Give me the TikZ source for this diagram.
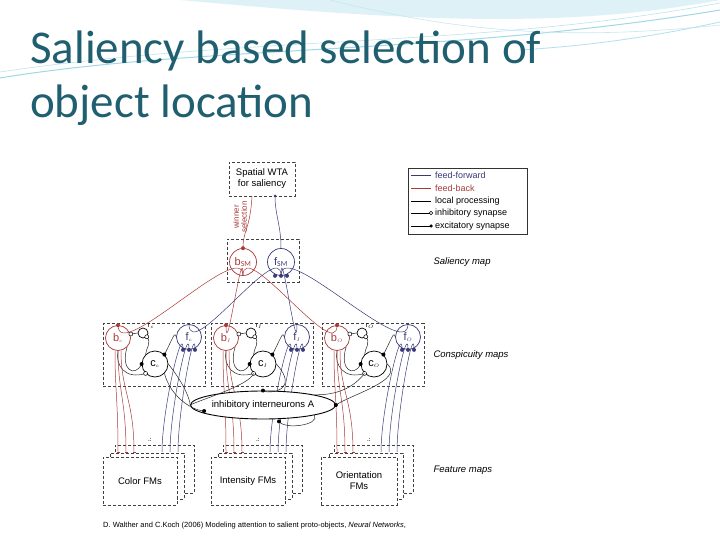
\documentclass[tikz,border=0pt]{standalone}
\usepackage{fontspec}
\setmainfont{Carlito}
\newfontfamily\arial{Liberation Sans}
\usetikzlibrary{shapes.geometric,arrows.meta}
\definecolor{ttl}{HTML}{1F5F70}
\definecolor{fb}{HTML}{A83A3A}
\definecolor{ff}{HTML}{3A3A78}
\definecolor{sw}{HTML}{9FD8E8}
\tikzset{
  dbox/.style={draw=black!75,dashed,dash pattern=on 3pt off 2pt,line width=0.7pt},
  neur/.style={circle,draw,line width=0.7pt,minimum size=25pt,inner sep=0pt,font=\arial\fontsize{11}{11}\selectfont,fill=white},
  lbl/.style={font=\arial\itshape\fontsize{9.5}{10}\selectfont,anchor=west},
  fbl/.style={fb,line width=0.5pt},
  ffl/.style={ff,line width=0.5pt},
  loc/.style={black!85,line width=0.5pt},
  exc/.style={circle,fill,inner sep=0pt,minimum size=4pt},
  inh/.style={circle,draw,fill=white,inner sep=0pt,minimum size=4pt,line width=0.5pt},
}
\begin{document}
\begin{tikzpicture}[x=1pt,y=-1pt]
\useasboundingbox (0,0) rectangle (720,540);
\fill[white] (0,0) rectangle (720,540);
% header swooshes
\fill[sw!35] (180,0) .. controls (400,20) and (560,30) .. (720,0) -- cycle;
\draw[sw,line width=1pt] (0,78) .. controls (200,45) and (450,55) .. (720,10);
\draw[sw!70,line width=0.6pt] (0,72) .. controls (250,35) and (480,48) .. (720,3);
\draw[sw!60,line width=0.6pt] (330,0) .. controls (450,30) and (560,42) .. (720,25);
\draw[sw!80,line width=0.8pt] (520,50) .. controls (600,45) and (660,35) .. (720,22);
% title
\node[anchor=base west,inner sep=0,text=ttl,font=\fontsize{47}{47}\selectfont] (t1) at (30,64) {Saliency based selection of};
\node[anchor=base west,inner sep=0,text=ttl,font=\fontsize{47}{47}\selectfont] (t2) at (30,118) {object location};
% WTA
\node[dbox,minimum width=66pt,minimum height=34pt,align=center,font=\arial\fontsize{9.5}{11}\selectfont,inner sep=1pt] (wta) at (262,179) {Spatial WTA\\for saliency};
% legend
\node[draw=black!80,line width=0.6pt,minimum width=119pt,minimum height=66pt] (leg) at (467.5,201) {};
\foreach \y/\t/\c/\m in {175/feed-forward/ff/0,188/feed-back/fb/0,201/local processing/black/0,213/inhibitory synapse/black/1,226/excitatory synapse/black/2}{
  \coordinate (la) at (411,\y); \coordinate (lb) at (431,\y);
  \draw[\c,line width=0.5pt] (la) -- (lb);
  \ifnum\m=1 \node[inh,minimum size=3.5pt] at (lb) {};\fi
  \ifnum\m=2 \node[exc,minimum size=3.5pt] at (lb) {};\fi
  \node[anchor=west,text=\c,font=\arial\fontsize{9}{9}\selectfont,inner sep=0pt] at (435,\y) {\t};
}
% saliency map
\node[dbox,minimum width=72pt,minimum height=43pt] (smbox) at (263,260.5) {};
\node[neur,draw=fb,text=fb,minimum size=27pt] (bsm) at (243,262) {b$_{\mathrm{SM}}$};
\node[neur,draw=ff,text=ff,minimum size=27pt] (fsm) at (281,262) {f$_{\mathrm{SM}}$};
\node[lbl] (l1) at (430,262) {Saliency map};
\node[lbl] (l2) at (430,355) {Conspicuity maps};
\node[lbl] (l3) at (430,470) {Feature maps};
\draw[fbl] (wta.south) ++(-10,0) coordinate (w1) .. controls (250,230) and (243,230) .. (bsm.north);
\node[exc,fb] at (bsm.north) {};
\draw[ffl] (fsm.north) .. controls (281,225) and (275,215) .. (275,196) coordinate (w2);
\node[exc,ff,minimum size=3pt] at (w2) {};
\node[fb,rotate=90,font=\arial\fontsize{8}{8}\selectfont,align=center,inner sep=0] (ws) at (240,217) {winner\\selection};
% conspicuity groups
\foreach \i/\dx/\s in {1/0/c,2/108/I,3/219/O}{
  \begin{scope}[xshift=\dx]
  \node[dbox,minimum width=102pt,minimum height=63pt] (box\i) at (154,355) {};
  \node[neur,text=fb,draw=fb] (b\i) at (118,338) {b$_{\scriptscriptstyle \s}$};
  \node[neur,text=ff,draw=ff] (f\i) at (189,337) {f$_{\scriptscriptstyle \s}$};
  \node[neur,minimum size=26pt] (c\i) at (155,364) {c$_{\scriptscriptstyle \s}$};
  \node[circle,draw,line width=0.7pt,minimum size=10pt,inner sep=0] (r\i) at (143,333) {};
  \node[font=\arial\fontsize{7}{7}\selectfont,inner sep=0] (rl\i) at (151,326) {r$_{\scriptscriptstyle \s}$};
  \draw[loc] (b\i.east) ++(0,-4) coordinate (bi\i) -- (r\i.west);
  \node[inh] at (bi\i) {};
  \draw[loc] (r\i.south east) .. controls (152,343) and (146,348) .. (c\i.north west);
  \node[inh] at (r\i.south east) {};
  \draw[loc] (b\i.south east) .. controls (120,370) and (135,378) .. (c\i.west);
  \node[exc] at (c\i.west) {};
  \draw[loc] (c\i.north east) .. controls (172,340) and (175,330) .. (f\i.west);
  \node[exc] at (c\i.north east) {};
  \draw[loc] (b\i.south) .. controls (115,365) and (125,380) .. (c\i.south west);
  \node[inh] at (c\i.south west) {};
  \node[exc,ff] at ([xshift=-6]f\i.south) {};
  \node[exc,ff] at (f\i.south) {};
  \node[exc,ff] at ([xshift=6]f\i.south) {};
  \node[exc,fb] at (b\i.north) {};
  % feature maps
  \node[dbox,fill=white,minimum width=79pt,minimum height=48pt] (fmc\i) at (154.5,469) {};
  \node[dbox,fill=white,minimum width=74pt,minimum height=46pt] (fmb\i) at (147,476) {};
  \foreach \k/\xx in {0/118,1/126,2/134}{
    \draw[fbl,-{Bar[width=3pt]}] (b\i.south) ++(-3+3*\k,0) .. controls ++(0,40) and (\xx,400) .. (\xx,452);
  }
  \foreach \k/\xx in {0/162,1/170,2/178}{
    \draw[ffl] (\xx,452) .. controls (\xx,410) and ([xshift=-6+6*\k,yshift=30]f\i.south) .. ([xshift=-6+6*\k]f\i.south);
  }
  \node[font=\fontsize{7}{7}\selectfont] at (150,440) {.:};
  \end{scope}
}
\node[dbox,fill=white,minimum width=74pt,minimum height=48pt,font=\arial\fontsize{9.5}{11}\selectfont] (fm1) at (140,481) {Color FMs};
\node[dbox,fill=white,minimum width=74pt,minimum height=48pt,font=\arial\fontsize{9.5}{11}\selectfont] (fm2) at (248,481) {Intensity FMs};
\node[dbox,fill=white,minimum width=76pt,minimum height=48pt,font=\arial\fontsize{9.5}{11}\selectfont,align=center] (fm3) at (359,481) {Orientation\\FMs};
% saliency connections
\foreach \i in {1,2,3}{
  \draw[fbl] (bsm.south) .. controls ([yshift=40]bsm.south) and ([yshift=-40]b\i.north) .. (b\i.north);
  \draw[ffl] (f\i.north) .. controls ([yshift=-40]f\i.north) and ([yshift=40]fsm.south) .. (fsm.south);
}
\node[exc,ff] at ([xshift=-6]fsm.south) {};
\node[exc,ff] at (fsm.south) {};
\node[exc,ff] at ([xshift=6]fsm.south) {};
% interneurons
\node[ellipse,draw,line width=0.9pt,fill=white,minimum width=144pt,minimum height=28pt,inner sep=0,font=\arial\fontsize{9.5}{10}\selectfont] (inA) at (263,405) {inhibitory interneurons A};
\draw[loc] (c1.east) .. controls (185,385) and (190,400) .. (inA.west);
\draw[loc] (c1.south east) .. controls (170,395) and (190,410) .. ([xshift=14,yshift=-6]inA.west) coordinate (ia1);
\node[exc] at (ia1) {};
\draw[loc] (c2.east) .. controls (300,390) and (270,395) .. (inA.north);
\node[exc] at (inA.north) {};
\draw[loc] (c2.south west) .. controls (250,385) and (200,400) .. (inA.west);
\draw[loc] (c3.east) .. controls (405,380) and (350,395) .. (inA.east);
\node[exc] at (inA.east) {};
\draw[loc] (c3.south west) .. controls (350,392) and (330,395) .. (inA.north east);
\draw[loc] ([xshift=16,yshift=-2]inA.south) coordinate (ia2) .. controls (285,430) and (320,425) .. (inA.south east);
\node[exc] at (ia2) {};
% citation
\node[anchor=base west,inner sep=0,font=\arial\fontsize{7.5}{8}\selectfont] (cite) at (103,527) {D. Walther and C.Koch (2006) Modeling attention to salient proto-objects, \textit{Neural Networks},};
\end{tikzpicture}
\end{document}
